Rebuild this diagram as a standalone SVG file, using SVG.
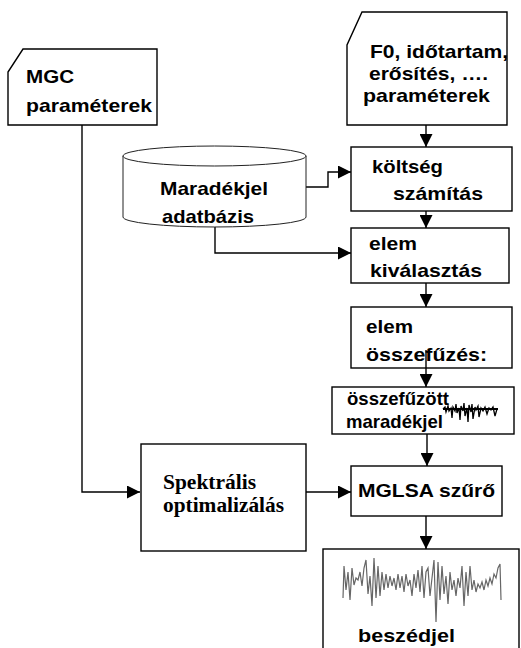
<svg xmlns="http://www.w3.org/2000/svg" width="521" height="648" viewBox="0 0 521 648">
<style>
.box{fill:#fff;stroke:#000;stroke-width:1.4}
.t{font-family:"Liberation Sans",Arial,sans-serif;font-weight:bold;font-size:19px;fill:#000}
.s{font-family:"Liberation Serif","Times New Roman",serif;font-weight:bold;font-size:20px;fill:#000}
.c{fill:none;stroke:#000;stroke-width:1.4}
</style>
<defs>
<marker id="ah" markerUnits="userSpaceOnUse" markerWidth="13" markerHeight="13" refX="12" refY="6" orient="auto" viewBox="0 0 12 12">
<path d="M0,0 L12,6 L0,12 z" fill="#000"/>
</marker>
</defs>
<rect width="521" height="648" fill="#fff"/>
<g id="connectors">
<path class="c" d="M82,125 V492 H140" marker-end="url(#ah)"/>
<path class="c" d="M426,125 V147" marker-end="url(#ah)"/>
<path class="c" d="M306,187 H328 V172 H351" marker-end="url(#ah)"/>
<path class="c" d="M215,227 V253 H351" marker-end="url(#ah)"/>
<path class="c" d="M426,195 V228" marker-end="url(#ah)"/>
<path class="c" d="M426,283 V307" marker-end="url(#ah)"/>
<path class="c" d="M306,492 H351" marker-end="url(#ah)"/>
<path class="c" d="M427,434 V466" marker-end="url(#ah)"/>
<path class="c" d="M426,516 V549" marker-end="url(#ah)"/>
</g>
<g id="mgc">
<path class="box" d="M23,49 H157 V125 H8 V72 Z"/>
<text class="t" x="26" y="83" textLength="48" lengthAdjust="spacingAndGlyphs">MGC</text>
<text class="t" x="26" y="112" textLength="126" lengthAdjust="spacingAndGlyphs">paraméterek</text>
</g>
<g id="f0">
<path class="box" d="M362,12 H507 V125 H347 V45 Z"/>
<text class="t" x="370" y="58" textLength="138" lengthAdjust="spacingAndGlyphs">F0, időtartam,</text>
<text class="t" x="369" y="80" textLength="119" lengthAdjust="spacingAndGlyphs">erősítés, ….</text>
<text class="t" x="363" y="102" textLength="127" lengthAdjust="spacingAndGlyphs">paraméterek</text>
</g>
<g id="adatbazis">
<path d="M123,156 V217 A91.5,10 0 0 0 306,217 V156" fill="#fff" stroke="#222" stroke-width="1"/>
<ellipse cx="214.5" cy="156" rx="91.5" ry="10" fill="#fff" stroke="#222" stroke-width="1"/>
<text class="t" x="160" y="195" textLength="108" lengthAdjust="spacingAndGlyphs">Maradékjel</text>
<text class="t" x="162" y="223" textLength="92" lengthAdjust="spacingAndGlyphs">adatbázis</text>
</g>
<g id="koltseg">
<rect class="box" x="351" y="147" width="161" height="64"/>
<text class="t" x="372" y="173" textLength="71" lengthAdjust="spacingAndGlyphs">költség</text>
<text class="t" x="393" y="200" textLength="90" lengthAdjust="spacingAndGlyphs">számítás</text>
</g>
<g id="kivalasztas">
<rect class="box" x="351" y="228" width="158" height="55"/>
<text class="t" x="369" y="250" textLength="48" lengthAdjust="spacingAndGlyphs">elem</text>
<text class="t" x="370" y="277" textLength="112" lengthAdjust="spacingAndGlyphs">kiválasztás</text>
</g>
<g id="osszefuzes">
<rect class="box" x="351" y="307" width="161" height="61"/>
<text class="t" x="366" y="333" textLength="47" lengthAdjust="spacingAndGlyphs">elem</text>
<text class="t" x="366" y="361" textLength="121" lengthAdjust="spacingAndGlyphs">összefűzés:</text>
</g>
<path class="c" d="M426,350 V387" marker-end="url(#ah)"/>
<g id="osszefuzott">
<rect class="box" x="332" y="387" width="182" height="47"/>
<text class="t" x="347" y="405" font-size="17.5" textLength="102" lengthAdjust="spacingAndGlyphs">összefűzött</text>
<text class="t" x="346" y="428" font-size="17.5" textLength="97" lengthAdjust="spacingAndGlyphs">maradékjel</text>
<path d="M443,409 L445,407 L446,412 L448,406 L449,411 L451,408 L452,418 L453,407 L455,411 L456,404 L457,413 L459,408 L460,420 L461,406 L463,411 L464,403 L465,416 L467,408 L468,422 L469,405 L471,412 L472,404 L473,419 L475,407 L476,410 L478,406 L479,417 L481,408 L483,411 L485,407 L487,414 L489,408 L491,410 L493,407 L495,416 L497,409 L498,409" fill="none" stroke="#000" stroke-width="1.3"/>
<path d="M443,409 H498" fill="none" stroke="#000" stroke-width="2"/>
</g>
<g id="spektralis">
<rect class="box" x="141" y="444" width="165" height="107"/>
<text class="s" x="163" y="489" textLength="93" lengthAdjust="spacingAndGlyphs">Spektrális</text>
<text class="s" x="163" y="512" textLength="121" lengthAdjust="spacingAndGlyphs">optimalizálás</text>
</g>
<g id="mglsa">
<rect class="box" x="351" y="466" width="151" height="50"/>
<text class="t" x="358" y="497" textLength="137" lengthAdjust="spacingAndGlyphs">MGLSA szűrő</text>
</g>
<g id="beszedjel">
<rect class="box" x="323" y="549" width="196" height="110"/>
<path d="M343,598 L344,566 L346,590 L348,572 L350,600 L352,568 L354,585 L356,578 L358,580 L360,572 L362,586 L364,568 L366,560 L368,594 L370,576 L372,606 L374,558 L376,598 L378,566 L380,596 L382,572 L384,590 L386,574 L388,588 L390,576 L392,586 L394,578 L396,590 L398,574 L400,588 L402,576 L404,592 L406,574 L408,586 L410,580 L412,596 L414,574 L416,588 L418,570 L420,592 L422,566 L424,598 L426,572 L428,568 L430,596 L432,578 L434,560 L436,622 L438,562 L440,600 L442,566 L444,594 L446,576 L448,604 L450,572 L452,590 L454,580 L456,596 L458,578 L460,588 L462,566 L464,606 L466,572 L468,596 L470,566 L472,590 L474,580 L476,592 L478,584 L480,588 L482,582 L484,590 L486,580 L488,586 L490,578 L492,584 L494,574 L496,578 L498,568 L500,564 L501,600" fill="none" stroke="#666" stroke-width="1.2"/>
<text class="t" x="358" y="642" font-size="16" textLength="97" lengthAdjust="spacingAndGlyphs">beszédjel</text>
</g>
</svg>
